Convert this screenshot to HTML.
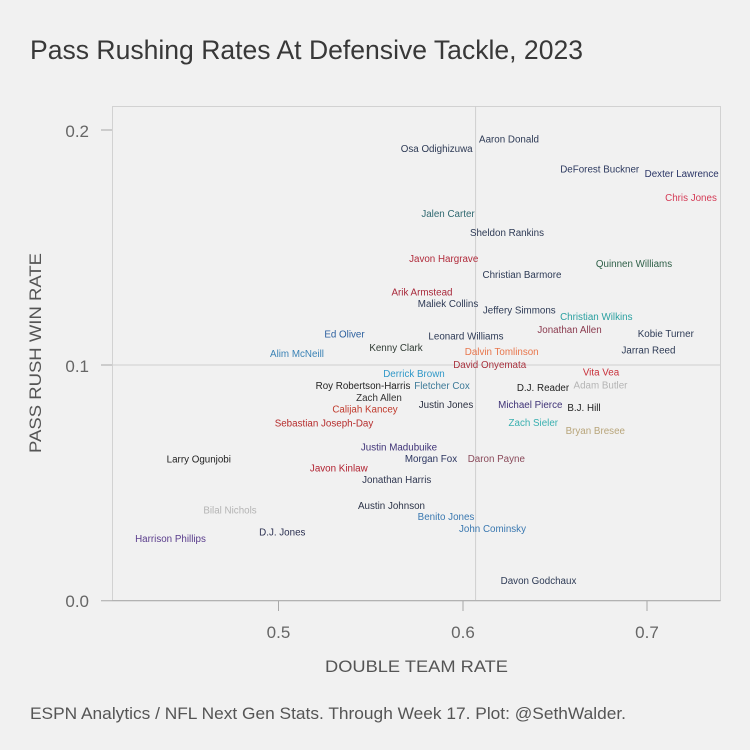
<!DOCTYPE html>
<html><head><meta charset="utf-8"><style>
html,body{margin:0;padding:0;background:#f1f1f1;}
svg{display:block;font-family:"Liberation Sans",Arial,sans-serif;}
.l{font-size:9.8px;text-anchor:middle;dominant-baseline:central;}
</style></head><body>
<svg width="750" height="750" viewBox="0 0 750 750" xmlns="http://www.w3.org/2000/svg">
<rect width="750" height="750" fill="#f1f1f1"/>
<text x="30" y="59" font-size="27" fill="#383838" textLength="553" lengthAdjust="spacingAndGlyphs">Pass Rushing Rates At Defensive Tackle, 2023</text>
<!-- panel -->
<rect x="112.5" y="106.5" width="608" height="494" fill="none" stroke="#d2d2d2" stroke-width="1"/>
<line x1="112" y1="365" x2="720" y2="365" stroke="#cfcfcf" stroke-width="1"/>
<line x1="475.6" y1="106" x2="475.6" y2="601" stroke="#cfcfcf" stroke-width="1"/>
<!-- axes -->
<line x1="101" y1="600.7" x2="720.5" y2="600.7" stroke="#a8a8a8" stroke-width="1"/>
<line x1="101" y1="130" x2="112" y2="130" stroke="#a8a8a8" stroke-width="1"/>
<line x1="101" y1="365" x2="112" y2="365" stroke="#a8a8a8" stroke-width="1"/>
<line x1="278.5" y1="601" x2="278.5" y2="611" stroke="#a8a8a8" stroke-width="1"/>
<line x1="463" y1="601" x2="463" y2="611" stroke="#a8a8a8" stroke-width="1"/>
<line x1="647" y1="601" x2="647" y2="611" stroke="#a8a8a8" stroke-width="1"/>
<g font-size="17" fill="#666">
<text x="89" y="137" text-anchor="end">0.2</text>
<text x="89" y="372" text-anchor="end">0.1</text>
<text x="89" y="607" text-anchor="end">0.0</text>
<text x="278.5" y="638" text-anchor="middle">0.5</text>
<text x="463" y="638" text-anchor="middle">0.6</text>
<text x="647" y="638" text-anchor="middle">0.7</text>
</g>
<text x="416.5" y="672" font-size="17" fill="#555" text-anchor="middle" textLength="183" lengthAdjust="spacingAndGlyphs">DOUBLE TEAM RATE</text>
<text transform="translate(41,353) rotate(-90)" font-size="17" fill="#555" text-anchor="middle" textLength="200" lengthAdjust="spacingAndGlyphs">PASS RUSH WIN RATE</text>
<text x="30" y="719" font-size="17" fill="#555" textLength="596" lengthAdjust="spacingAndGlyphs">ESPN Analytics / NFL Next Gen Stats. Through Week 17. Plot: @SethWalder.</text>
<!-- labels -->
<g class="l" transform="translate(0,1)">
<text class="l" x="509" y="139" fill="#2d3a55">Aaron Donald</text>
<text class="l" x="436.7" y="148.3" fill="#2d3a55">Osa Odighizuwa</text>
<text class="l" x="599.7" y="169" fill="#2d3a60">DeForest Buckner</text>
<text class="l" x="681.7" y="173.3" fill="#2a3566">Dexter Lawrence</text>
<text class="l" x="691" y="197.3" fill="#d43a55">Chris Jones</text>
<text class="l" x="448" y="213.3" fill="#2f6870">Jalen Carter</text>
<text class="l" x="507" y="232.3" fill="#2d3a55">Sheldon Rankins</text>
<text class="l" x="443.7" y="258.7" fill="#b02a3a">Javon Hargrave</text>
<text class="l" x="634" y="263.7" fill="#2f6048">Quinnen Williams</text>
<text class="l" x="522" y="274.7" fill="#2d3a55">Christian Barmore</text>
<text class="l" x="422" y="292" fill="#a8283a">Arik Armstead</text>
<text class="l" x="448" y="303.3" fill="#2d3a55">Maliek Collins</text>
<text class="l" x="519.3" y="310" fill="#2d3a55">Jeffery Simmons</text>
<text class="l" x="596.3" y="316.7" fill="#2aa0a0">Christian Wilkins</text>
<text class="l" x="569.5" y="329.7" fill="#8a3a4e">Jonathan Allen</text>
<text class="l" x="665.8" y="333.3" fill="#2d3a55">Kobie Turner</text>
<text class="l" x="466" y="336" fill="#2d3a55">Leonard Williams</text>
<text class="l" x="501.7" y="351.7" fill="#e8764c">Dalvin Tomlinson</text>
<text class="l" x="648.5" y="350" fill="#2d3a55">Jarran Reed</text>
<text class="l" x="396" y="347.3" fill="#2f3a33">Kenny Clark</text>
<text class="l" x="344.5" y="334" fill="#2b5f9e">Ed Oliver</text>
<text class="l" x="297" y="353.3" fill="#3a82b5">Alim McNeill</text>
<text class="l" x="489.7" y="364.7" fill="#a8323e">David Onyemata</text>
<text class="l" x="414" y="373.3" fill="#3098c8">Derrick Brown</text>
<text class="l" x="442" y="385.7" fill="#3d7a98">Fletcher Cox</text>
<text class="l" x="601" y="372" fill="#c8303a">Vita Vea</text>
<text class="l" x="543" y="387.3" fill="#222">D.J. Reader</text>
<text class="l" x="600.5" y="385" fill="#b4b4b4">Adam Butler</text>
<text class="l" x="446" y="404.7" fill="#2a2f40">Justin Jones</text>
<text class="l" x="530.3" y="404.7" fill="#3f3377">Michael Pierce</text>
<text class="l" x="584" y="407.3" fill="#222">B.J. Hill</text>
<text class="l" x="533.3" y="422.7" fill="#3ab0b0">Zach Sieler</text>
<text class="l" x="595.3" y="430.7" fill="#b8a57a">Bryan Bresee</text>
<text class="l" x="399" y="447" fill="#3f3377">Justin Madubuike</text>
<text class="l" x="431" y="458.7" fill="#2b3560">Morgan Fox</text>
<text class="l" x="496.3" y="458.7" fill="#8a4a5a">Daron Payne</text>
<text class="l" x="396.7" y="479.3" fill="#2f3650">Jonathan Harris</text>
<text class="l" x="391.5" y="505.7" fill="#2b3347">Austin Johnson</text>
<text class="l" x="446" y="516.7" fill="#3a78b0">Benito Jones</text>
<text class="l" x="492.5" y="528.7" fill="#3a78b0">John Cominsky</text>
<text class="l" x="538.5" y="580.7" fill="#2d3a55">Davon Godchaux</text>
<text class="l" x="363" y="385.7" fill="#222">Roy Robertson-Harris</text>
<text class="l" x="379" y="397.3" fill="#333">Zach Allen</text>
<text class="l" x="365" y="409" fill="#c0392b">Calijah Kancey</text>
<text class="l" x="324" y="423" fill="#b52b2b">Sebastian Joseph-Day</text>
<text class="l" x="198.8" y="459" fill="#222">Larry Ogunjobi</text>
<text class="l" x="338.8" y="468" fill="#b01f2e">Javon Kinlaw</text>
<text class="l" x="230" y="510" fill="#b4b4b4">Bilal Nichols</text>
<text class="l" x="282.3" y="532" fill="#2a2f50">D.J. Jones</text>
<text class="l" x="170.5" y="538.3" fill="#5a3d8c">Harrison Phillips</text>
</g>
</svg>
</body></html>
